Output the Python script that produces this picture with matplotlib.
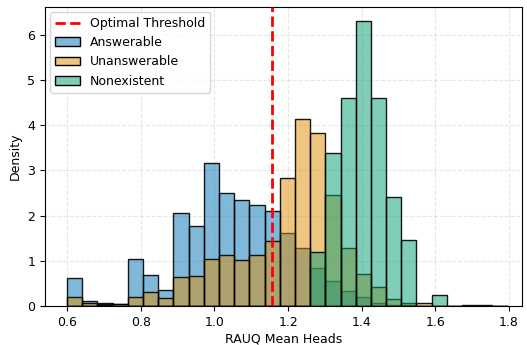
import numpy as np
import matplotlib
matplotlib.use("Agg")
import matplotlib.pyplot as plt
from matplotlib.patches import Patch
from matplotlib.lines import Line2D

plt.rcParams["font.size"] = 9

# Histogram bin range (29 common bins)
bin_start, bin_end, n_bins = 0.6, 1.796, 29

answerable = [0.63, 0.12, 0.07, 0.04, 1.04, 0.69, 0.35, 2.06, 1.76, 3.17,
              2.51, 2.35, 2.23, 2.10, 1.61, 1.28, 0.83, 0.56, 0.34, 0.21,
              0.06, 0.03, 0.02, 0.0, 0.0, 0.0, 0.0, 0.0, 0.0]
unanswerable = [0.21, 0.06, 0.05, 0.04, 0.21, 0.30, 0.17, 0.64, 0.66, 1.05,
                1.13, 1.02, 1.13, 1.44, 2.84, 4.13, 3.82, 2.45, 1.28, 0.70,
                0.42, 0.16, 0.06, 0.07, 0.0, 0.0, 0.0, 0.0, 0.0]
nonexistent = [0.0, 0.0, 0.02, 0.0, 0.0, 0.0, 0.0, 0.0, 0.0, 0.0,
               0.0, 0.0, 0.0, 0.0, 0.0, 0.0, 1.20, 3.39, 4.59, 6.30,
               4.59, 2.41, 1.45, 0.01, 0.24, 0.005, 0.03, 0.015, 0.01]
threshold = 1.155

series = [("Answerable", answerable, "#0173b2"),
          ("Unanswerable", unanswerable, "#de8f05"),
          ("Nonexistent", nonexistent, "#029e73")]

edges = np.linspace(bin_start, bin_end, n_bins + 1)
widths = np.diff(edges)

fig = plt.figure(figsize=(5.27, 3.45), dpi=100)
ax = fig.add_axes([0.0854, 0.113, 0.905, 0.867])

for name, vals, col in series:
    ax.bar(edges[:-1], vals, width=widths, align="edge",
           facecolor=matplotlib.colors.to_rgba(col, 0.5),
           edgecolor=(0, 0, 0, 0.9), linewidth=1.0, zorder=2)

ax.axvline(threshold, color="red", linestyle="--", linewidth=2, zorder=3)

ax.set_xlim(0.54, 1.835)
ax.set_ylim(0, 6.615)
ax.set_xticks([0.6, 0.8, 1.0, 1.2, 1.4, 1.6, 1.8])
ax.set_yticks([0, 1, 2, 3, 4, 5, 6])
ax.grid(True, linestyle="--", alpha=0.3, zorder=0)
ax.set_axisbelow(True)
ax.set_xlabel("RAUQ Mean Heads", labelpad=3)
ax.set_ylabel("Density")

handles = [Line2D([0], [0], color="red", linestyle="--", linewidth=2)]
labels = ["Optimal Threshold"]
for name, vals, col in series:
    handles.append(Patch(facecolor=matplotlib.colors.to_rgba(col, 0.5), edgecolor="black"))
    labels.append(name)
ax.legend(handles, labels, loc="upper left", borderaxespad=0.4)

fig.savefig("out.png", dpi=100)
